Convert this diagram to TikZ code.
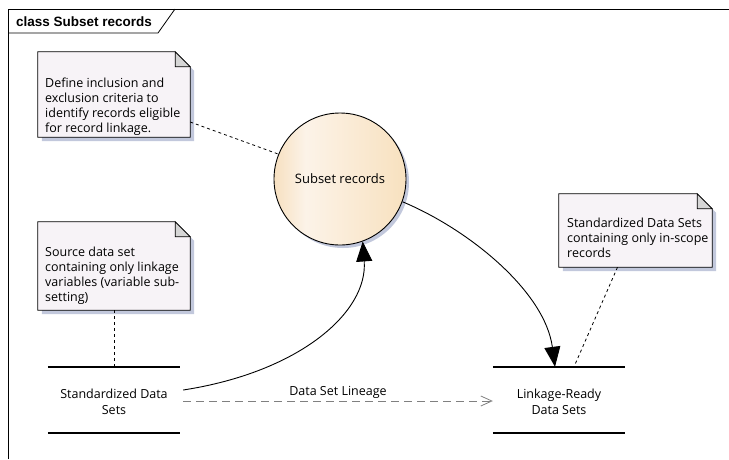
\documentclass[tikz,border=0pt]{standalone}
\usepackage{fontspec}
\setmainfont{Open Sans}
\newfontfamily\titlefont{Liberation Sans}
\usetikzlibrary{arrows.meta,calc}

\definecolor{notebg}{HTML}{F7F3F7}
\definecolor{foldgray}{HTML}{D6D6D6}
\definecolor{shadowc}{HTML}{C2C8DC}
\definecolor{peachA}{HTML}{F7E0C0}
\definecolor{peachB}{HTML}{FCF3E8}
\definecolor{peachC}{HTML}{F8E1BF}
\definecolor{lineagegray}{HTML}{808080}

\pgfdeclarehorizontalshading{peach}{100bp}{color(0bp)=(peachA); color(25bp)=(peachA); color(37bp)=(peachB); color(75bp)=(peachC); color(100bp)=(peachC)}

% folded-corner note drawn around an (invisible) box node
\newcommand\drawnote[1]{%
  \fill[shadowc] ([xshift=4pt,yshift=-4pt]#1.north west) -- ([xshift=-11pt,yshift=-4pt]#1.north east)
    -- ([xshift=4pt,yshift=-19pt]#1.north east) -- ([xshift=4pt,yshift=-4pt]#1.south east)
    -- ([xshift=4pt,yshift=-4pt]#1.south west) -- cycle;
  \draw[fill=notebg, line width=0.8pt] (#1.north west) -- ([xshift=-15pt]#1.north east)
    -- ([yshift=-15pt]#1.north east) -- (#1.south east) -- (#1.south west) -- cycle;
  \draw[fill=foldgray, line width=0.8pt] ([xshift=-15pt]#1.north east)
    -- ([xshift=-15pt,yshift=-15pt]#1.north east) -- ([yshift=-15pt]#1.north east) -- cycle;
}

\begin{document}
\begin{tikzpicture}[x=1pt, y=-1pt,
  font=\fontsize{12.5}{15}\selectfont,
  notebox/.style={draw=none, inner sep=0pt, minimum width=152pt},
  notetext/.style={anchor=north west, inner sep=0pt, align=left, font=\fontsize{12.5}{15}\selectfont},
  store/.style={draw=none, inner sep=0pt, minimum width=132pt, minimum height=66pt, align=center,
                font=\fontsize{12.5}{16.5}\selectfont},
  storeline/.style={line width=2.4pt},
  flow/.style={line width=0.9pt, -{Triangle[length=20pt,width=16pt]}},
  notelink/.style={line width=0.8pt, dash pattern=on 3pt off 3pt},
  lineage/.style={line width=0.8pt, lineagegray, dash pattern=on 8pt off 5pt,
                  -{Straight Barb[length=11pt,width=10pt,line width=0.8pt]}},
]
\useasboundingbox (0,0) rectangle (729,459);

% diagram frame and its name tab
\draw[line width=0.8pt] (8,459) -- (8,9) -- (729,9);
\draw[line width=0.8pt] (8,33) -- (158,33) -- (175,9);
\node[anchor=west, inner sep=0pt, font=\titlefont\bfseries\fontsize{13.5}{15}\selectfont] (title) at (16,21.5) {class Subset records};

% notes
\node[notebox, minimum height=85pt] (n1) at (114,94.5) {};
\drawnote{n1}
\node[notetext] (t1) at (45,77.5) {Define inclusion and\\exclusion criteria to\\identify records eligible\\for record linkage.};

\node[notebox, minimum height=88pt] (n2) at (114,266) {};
\drawnote{n2}
\node[notetext] (t2) at (45,246.5) {Source data set\\containing only linkage\\variables (variable sub-\\setting)};

\node[notebox, minimum width=153pt, minimum height=73pt] (n3) at (635.5,230.5) {};
\drawnote{n3}
\node[notetext] (t3) at (567,217.5) {Standardized Data Sets\\containing only in-scope\\records};

% process
\fill[shadowc] (343,182) circle (66pt);
\node[circle, draw, line width=0.9pt, minimum size=132pt, inner sep=0pt, shading=peach,
      font=\fontsize{13}{15}\selectfont] (proc) at (340,179) {Subset records};

% data stores
\node[store] (ds1) at (114,400) {\rule{0pt}{13pt}Standardized Data\\Sets};
\draw[storeline] (ds1.north west) -- (ds1.north east);
\draw[storeline] (ds1.south west) -- (ds1.south east);

\node[store] (ds2) at (559,400) {\rule{0pt}{13pt}Linkage-Ready\\Data Sets};
\draw[storeline] (ds2.north west) -- (ds2.north east);
\draw[storeline] (ds2.south west) -- (ds2.south east);

% note anchors
\draw[notelink] (n1.east |- 0,122) -- (proc.158);
\draw[notelink] (n2.south) -- (ds1.north);
\draw[notelink] ([xshift=-18pt]n3.south) -- ([xshift=15pt]ds2.north);

% flows
\draw[flow] ([xshift=3pt,yshift=10pt]ds1.east) .. controls (300,372) and (368,312) .. (proc.-70);
\draw[flow] (proc.-20) .. controls (470,230) and (545,292) .. ([xshift=-4pt]ds2.north);

% lineage dependency
\draw[lineage] ([xshift=3pt,yshift=-1pt]ds1.east) -- ([yshift=-1pt]ds2.west)
  node[midway, anchor=base, yshift=5.5pt, inner sep=0pt, text=black] {Data Set Lineage};
\end{tikzpicture}
\end{document}
